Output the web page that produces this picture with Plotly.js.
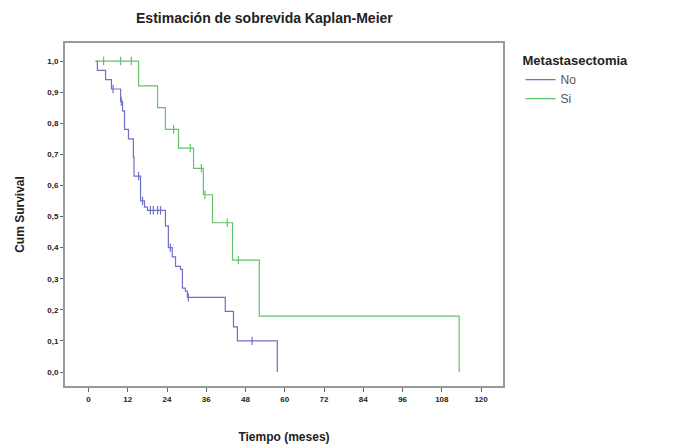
<!DOCTYPE html>
<html>
<head>
<meta charset="utf-8">
<script src="https://cdn.plot.ly/plotly-3.0.1.min.js"></script>
<style>html,body{margin:0;padding:0;background:#fff;}#chart{width:678px;height:448px;}</style>
</head>
<body>
<div id="chart"></div>
<script>
// Group "No"
const noTime = [2.1, 2.7, 5.2, 7.0, 9.8, 10.4, 11.0, 12.2, 13.7, 13.9, 15.9, 17.1, 18.0, 23.5, 24.4, 25.6, 26.6, 28.1, 28.7, 29.6, 30.2, 41.8, 44.3, 45.5, 57.7];
const noSurv = [1.0, 0.97, 0.94, 0.91, 0.87, 0.84, 0.78, 0.75, 0.69, 0.63, 0.55, 0.53, 0.52, 0.47, 0.40, 0.37, 0.34, 0.33, 0.27, 0.26, 0.24, 0.195, 0.145, 0.10, 0.0];
const noCensor = [7.5, 10.0, 15.3, 16.5, 18.9, 19.8, 21.1, 22.0, 25.0, 30.5, 50.0];
// Group "Si"
const siTime = [2.4, 15.3, 21.1, 23.5, 27.5, 32.1, 35.1, 37.9, 44.0, 52.2, 113.3];
const siSurv = [1.0, 0.92, 0.85, 0.78, 0.72, 0.655, 0.57, 0.48, 0.36, 0.18, 0.0];
const siCensor = [4.6, 9.8, 13.1, 26.0, 31.1, 34.5, 35.6, 42.4, 45.8];
// Axis ticks
const xTicks = [0, 12, 24, 36, 48, 60, 72, 84, 96, 108, 120];
const yTicks = [0, 0.1, 0.2, 0.3, 0.4, 0.5, 0.6, 0.7, 0.8, 0.9, 1.0];
const yTickText = ["0,0", "0,1", "0,2", "0,3", "0,4", "0,5", "0,6", "0,7", "0,8", "0,9", "1,0"];

const blue = "#6f6fcc";
const green = "#62c46a";

function stepAt(times, surv, t) {
  let v = surv[0];
  for (let i = 0; i < times.length; i++) { if (times[i] <= t) v = surv[i]; }
  return v;
}

const traces = [
  {x: noTime, y: noSurv, type: "scatter", mode: "lines", line: {shape: "hv", color: blue, width: 1.2}, name: "No"},
  {x: siTime, y: siSurv, type: "scatter", mode: "lines", line: {shape: "hv", color: green, width: 1.2}, name: "Si"},
  {x: noCensor, y: noCensor.map(t => stepAt(noTime, noSurv, t)), type: "scatter", mode: "markers",
   marker: {symbol: "line-ns", size: 6, line: {color: blue, width: 1.2}}, showlegend: false, hoverinfo: "skip"},
  {x: siCensor, y: siCensor.map(t => stepAt(siTime, siSurv, t)), type: "scatter", mode: "markers",
   marker: {symbol: "line-ns", size: 6, line: {color: green, width: 1.2}}, showlegend: false, hoverinfo: "skip"}
];

const tickFont = {family: "Liberation Sans, Arial, sans-serif", size: 8, color: "#222", weight: "bold"};
const layout = {
  width: 678, height: 448,
  margin: {l: 65, r: 175, t: 43, b: 62},
  paper_bgcolor: "#fff", plot_bgcolor: "#fff",
  font: {family: "Liberation Sans, Arial, sans-serif", color: "#222"},
  title: {text: "Estimación de sobrevida Kaplan-Meier", x: 0.39, xanchor: "center", y: 0.96, yanchor: "middle",
          font: {size: 14, weight: "bold", color: "#222"}},
  xaxis: {range: [-7.2, 126.7], tickvals: xTicks, ticktext: xTicks.map(String), ticks: "outside", ticklen: 4,
          tickcolor: "#666", tickfont: tickFont, showgrid: false, zeroline: false,
          showline: true, linecolor: "#999", linewidth: 2, mirror: true,
          title: {text: "Tiempo (meses)", font: {size: 12, weight: "bold", color: "#222"}, standoff: 30}},
  yaxis: {range: [-0.045, 1.058], tickvals: yTicks, ticktext: yTickText, ticks: "outside", ticklen: 3,
          tickcolor: "#666", tickfont: tickFont, showgrid: false, zeroline: false,
          showline: true, linecolor: "#999", linewidth: 2, mirror: true,
          title: {text: "Cum Survival", font: {size: 12, weight: "bold", color: "#222"}, standoff: 20}},
  legend: {x: 1.04, xanchor: "left", y: 0.985, yanchor: "top", bgcolor: "rgba(0,0,0,0)",
           title: {text: "Metastasectomia", font: {size: 13, weight: "bold", color: "#222"}},
           font: {size: 12, color: "#555"}, itemwidth: 30},
  showlegend: true
};

Plotly.newPlot("chart", traces, layout, {displayModeBar: false, staticPlot: true});
</script>
</body>
</html>
